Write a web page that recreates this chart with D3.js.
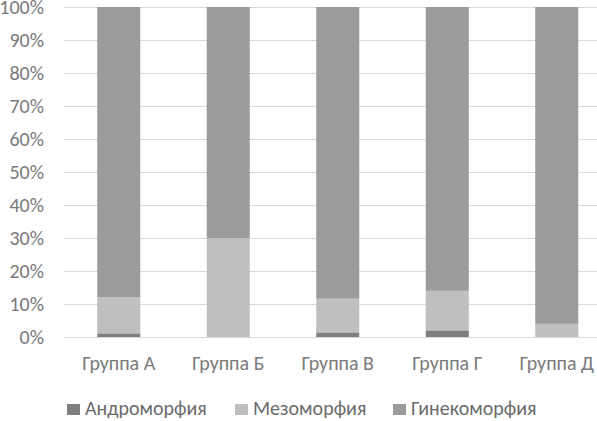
<!DOCTYPE html>
<html>
<head>
<meta charset="utf-8">
<script src="https://cdn.jsdelivr.net/npm/d3@7"></script>
<style>
  body { margin: 0; background: #fff; }
  svg { display: block; font-family: Carlito, "Liberation Sans Narrow", "Open Sans", sans-serif; }
</style>
</head>
<body>
<div id="chart"></div>
<script>
// groups on the x axis
var groups = ['Группа А', 'Группа Б', 'Группа В', 'Группа Г', 'Группа Д'];
// series, % of each group
var seriesNames = ['Андроморфия', 'Мезоморфия', 'Гинекоморфия'];
var andro = [1.1, 0, 1.4, 2.0, 0];
var mezo = [11.0, 30.0, 10.2, 12.0, 4.0];
var gyneco = [87.9, 70.0, 88.4, 86.0, 96.0];
var yTicks = [0, 10, 20, 30, 40, 50, 60, 70, 80, 90, 100];

var colors = ['#7f7f7f', '#bfbfbf', '#9b9b9b'];

var width = 597, height = 421;

var svg = d3.select('#chart')
    .append('svg')
    .attr('width', width)
    .attr('height', height);

var x = d3.scaleBand()
    .domain(groups)
    .range([64, 611.5])
    .paddingInner(0.607)
    .paddingOuter(0.3035);

var y = d3.scaleLinear()
    .domain([0, 100])
    .range([337, 7]);

// gridlines
svg.selectAll('.grid')
    .data(yTicks)
    .enter().append('line')
    .attr('class', 'grid')
    .attr('x1', 64)
    .attr('x2', width)
    .attr('y1', function (d) { return Math.round(y(d)) + 0.5; })
    .attr('y2', function (d) { return Math.round(y(d)) + 0.5; })
    .attr('stroke', '#d9d9d9')
    .attr('stroke-width', 1);

// y tick labels
svg.selectAll('.ytick')
    .data(yTicks)
    .enter().append('text')
    .attr('class', 'ytick')
    .attr('x', 44)
    .attr('y', function (d) { return y(d); })
    .attr('dy', '0.34em')
    .attr('text-anchor', 'end')
    .attr('font-size', 20)
    .attr('fill', '#7a7a7a')
    .text(function (d) { return d + '%'; });

// stack the three series
var rows = groups.map(function (g, i) {
    return { group: g, s0: andro[i], s1: mezo[i], s2: gyneco[i] };
});
var stack = d3.stack().keys(['s0', 's1', 's2']);
var layers = stack(rows);

svg.selectAll('.layer')
    .data(layers)
    .enter().append('g')
    .attr('class', 'layer')
    .attr('fill', function (d, i) { return colors[i]; })
    .selectAll('rect')
    .data(function (d) { return d; })
    .enter().append('rect')
    .attr('x', function (d) { return x(d.data.group); })
    .attr('width', x.bandwidth())
    .attr('y', function (d) { return y(d[1]); })
    .attr('height', function (d) { return y(d[0]) - y(d[1]); });

// baseline
svg.append('line')
    .attr('x1', 64).attr('x2', width)
    .attr('y1', 337.5).attr('y2', 337.5)
    .attr('stroke', '#d9d9d9');

// category labels
svg.selectAll('.xlab')
    .data(groups)
    .enter().append('text')
    .attr('class', 'xlab')
    .attr('x', function (d) { return x(d) + x.bandwidth() / 2; })
    .attr('y', 370)
    .attr('text-anchor', 'middle')
    .attr('font-size', 20)
    .attr('fill', '#7a7a7a')
    .text(function (d) { return d; });

// legend
var legendX = [67, 235, 393];
var legend = svg.selectAll('.legend')
    .data(seriesNames)
    .enter().append('g')
    .attr('class', 'legend')
    .attr('transform', function (d, i) { return 'translate(' + legendX[i] + ',404)'; });

legend.append('rect')
    .attr('width', 13)
    .attr('height', 11)
    .attr('fill', function (d, i) { return colors[i]; });

legend.append('text')
    .attr('x', 18)
    .attr('y', 11)
    .attr('font-size', 20)
    .attr('fill', '#6a6a6a')
    .text(function (d) { return d; });
</script>
</body>
</html>
